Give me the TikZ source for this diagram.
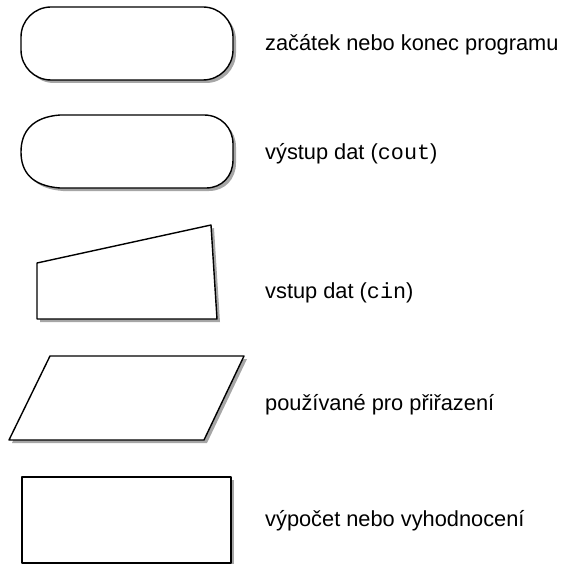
\documentclass[tikz,border=0pt]{standalone}
\usepackage{fontspec}
\setmainfont{Liberation Sans}
\setmonofont{Liberation Mono}
\usetikzlibrary{shadows}

\begin{document}
\begin{tikzpicture}[
      x=1pt, y=-1pt,
      every node/.style={font=\fontsize{21.8}{26}\selectfont},
      symbol/.style={draw, line width=1.4pt, fill=white, line join=round,
        drop shadow={shadow xshift=3pt, shadow yshift=-3pt, opacity=1, fill=black!35}},
      label/.style={anchor=base west, inner sep=0pt}
    ]
      \useasboundingbox (0,0) rectangle (562,564);
      % flowchart symbols
      \draw[symbol, rounded corners=30] (21,7) rectangle (233,80);
      \draw[symbol] (60,115) -- (204,115) .. controls (221,115) and (233,128) .. (233,144)
        -- (233,160) .. controls (233,176) and (222,188) .. (206,188) -- (60,188)
        .. controls (32,186) and (21,172) .. (21,152)
        .. controls (21,132) and (32,117) .. cycle;
      \draw[symbol] (37,263) -- (211,225) -- (217,319) -- (37,319) -- cycle;
      \draw[symbol] (50,356) -- (244,356) -- (204,440) -- (9,440) -- cycle;
      \draw[symbol] (22,477) rectangle (231,563);
      % descriptions
      \node[label] (term) at (265,51) {začátek nebo konec programu};
      \node[label] (output) at (265,160) {výstup dat ({\ttfamily cout})};
      \node[label] (input) at (265,298) {vstup dat ({\ttfamily cin})};
      \node[label] (assign) at (265,410) {používané pro přiřazení};
      \node[label] (process) at (265,526) {výpočet nebo vyhodnocení};
    \end{tikzpicture}
\end{document}
